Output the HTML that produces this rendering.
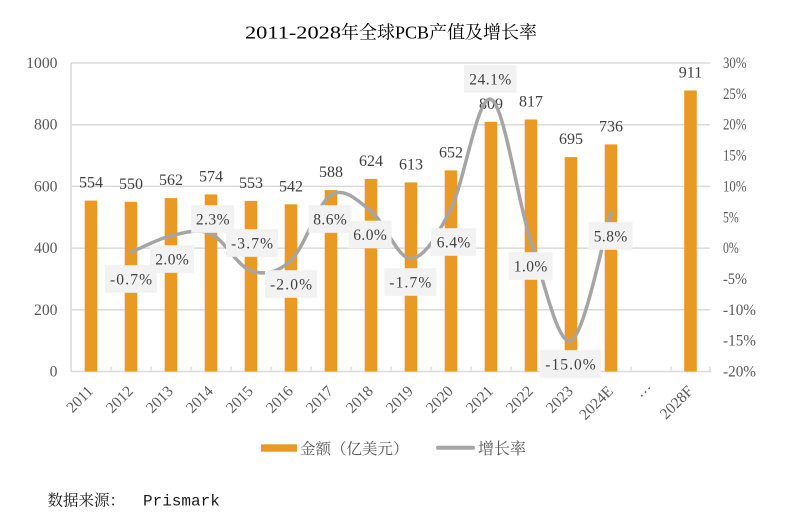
<!DOCTYPE html>
<html><head><meta charset="utf-8"><style>
html,body{margin:0;padding:0;background:#fff;}
svg{display:block;}
</style></head><body>
<svg width="789" height="523" viewBox="0 0 789 523" xmlns="http://www.w3.org/2000/svg">
<rect width="789" height="523" fill="#fff"/>
<!-- title -->
<g font-size="18" fill="#000">
<text x="245" y="38.5" font-family="Liberation Serif, serif" textLength="96" lengthAdjust="spacingAndGlyphs">2011-2028</text>
<text x="341" y="38.5" font-family="Liberation Serif, 'Noto Serif CJK SC', serif">年全球</text>
<text x="395" y="38.5" font-family="Liberation Serif, serif">PCB</text>
<text x="429" y="38.5" font-family="Liberation Serif, 'Noto Serif CJK SC', serif">产值及增长率</text>
</g>
<!-- gridlines -->
<g stroke="#d9d9d9" stroke-width="1.5">
<line x1="71" y1="63" x2="710" y2="63"/>
<line x1="71" y1="124.7" x2="710" y2="124.7"/>
<line x1="71" y1="186.4" x2="710" y2="186.4"/>
<line x1="71" y1="248.1" x2="710" y2="248.1"/>
<line x1="71" y1="309.8" x2="710" y2="309.8"/>
<line x1="71" y1="371.5" x2="711" y2="371.5"/>
<line x1="71" y1="63" x2="71" y2="371.5"/>
</g>
<g stroke="#d9d9d9" stroke-width="1.3">
<line x1="111" y1="366.5" x2="111" y2="371.5"/><line x1="151" y1="366.5" x2="151" y2="371.5"/>
<line x1="191" y1="366.5" x2="191" y2="371.5"/><line x1="231" y1="366.5" x2="231" y2="371.5"/>
<line x1="271" y1="366.5" x2="271" y2="371.5"/><line x1="311" y1="366.5" x2="311" y2="371.5"/>
<line x1="351" y1="366.5" x2="351" y2="371.5"/><line x1="391" y1="366.5" x2="391" y2="371.5"/>
<line x1="431" y1="366.5" x2="431" y2="371.5"/><line x1="471" y1="366.5" x2="471" y2="371.5"/>
<line x1="511" y1="366.5" x2="511" y2="371.5"/><line x1="551" y1="366.5" x2="551" y2="371.5"/>
<line x1="591" y1="366.5" x2="591" y2="371.5"/><line x1="631" y1="366.5" x2="631" y2="371.5"/>
<line x1="671" y1="366.5" x2="671" y2="371.5"/><line x1="710" y1="366.5" x2="710" y2="371.5"/>
</g>
<!-- left axis labels -->
<g font-family="Liberation Serif, serif" font-size="15.7" fill="#595959" text-anchor="end">
<text x="57.5" y="68">1000</text>
<text x="57.5" y="129.7">800</text>
<text x="57.5" y="191.4">600</text>
<text x="57.5" y="253.1">400</text>
<text x="57.5" y="314.8">200</text>
<text x="57.5" y="376.5">0</text>
</g>
<!-- right axis labels -->
<g font-family="Liberation Serif, serif" font-size="15.7" fill="#595959" lengthAdjust="spacingAndGlyphs">
<text x="723" y="68" textLength="23.5" lengthAdjust="spacingAndGlyphs">30%</text>
<text x="723" y="98.9" textLength="23.5" lengthAdjust="spacingAndGlyphs">25%</text>
<text x="723" y="129.7" textLength="23.5" lengthAdjust="spacingAndGlyphs">20%</text>
<text x="723" y="160.6" textLength="23.5" lengthAdjust="spacingAndGlyphs">15%</text>
<text x="723" y="191.4" textLength="23.5" lengthAdjust="spacingAndGlyphs">10%</text>
<text x="723" y="222.3" textLength="15.7" lengthAdjust="spacingAndGlyphs">5%</text>
<text x="723" y="253.1" textLength="15.7" lengthAdjust="spacingAndGlyphs">0%</text>
<text x="723" y="284" textLength="24" lengthAdjust="spacingAndGlyphs">-5%</text>
<text x="723" y="314.8" textLength="33" lengthAdjust="spacingAndGlyphs">-10%</text>
<text x="723" y="345.7" textLength="33" lengthAdjust="spacingAndGlyphs">-15%</text>
<text x="723" y="376.5" textLength="33" lengthAdjust="spacingAndGlyphs">-20%</text>
</g>
<!-- bars -->
<g fill="#E89A22">
<rect x="84.7" y="200.6" width="12.6" height="170.9"/>
<rect x="124.7" y="201.8" width="12.6" height="169.7"/>
<rect x="164.7" y="198.1" width="12.6" height="173.4"/>
<rect x="204.7" y="194.4" width="12.6" height="177.1"/>
<rect x="244.7" y="200.9" width="12.6" height="170.6"/>
<rect x="284.7" y="204.3" width="12.6" height="167.2"/>
<rect x="324.7" y="190.1" width="12.6" height="181.4"/>
<rect x="364.7" y="179.0" width="12.6" height="192.5"/>
<rect x="404.7" y="182.4" width="12.6" height="189.1"/>
<rect x="444.7" y="170.4" width="12.6" height="201.1"/>
<rect x="484.7" y="121.9" width="12.6" height="249.6"/>
<rect x="524.7" y="119.5" width="12.6" height="252.0"/>
<rect x="564.7" y="157.1" width="12.6" height="214.4"/>
<rect x="604.7" y="144.4" width="12.6" height="227.1"/>
<rect x="684.2" y="90.5" width="12.6" height="281.0"/>
</g>
<!-- value labels -->
<g font-family="Liberation Serif, serif" font-size="16" fill="#404040" text-anchor="middle">
<text x="91" y="187.6">554</text>
<text x="131" y="188.8">550</text>
<text x="171" y="185.1">562</text>
<text x="211" y="181.4">574</text>
<text x="251" y="187.9">553</text>
<text x="291" y="191.3">542</text>
<text x="331" y="177.1">588</text>
<text x="371" y="166">624</text>
<text x="411" y="169.4">613</text>
<text x="451" y="157.4">652</text>
<text x="491" y="108.9">809</text>
<text x="531" y="106.5">817</text>
<text x="571" y="144.1">695</text>
<text x="611" y="131.4">736</text>
<text x="690.5" y="77.5">911</text>
</g>
<!-- growth line -->
<path d="M131,252.4 C137.67,249.63 157.67,238.88 171,235.8 C184.33,232.72 197.67,228.05 211,233.9 C224.33,239.75 237.67,266.48 251,270.9 C264.33,275.32 277.67,273.05 291,260.4 C304.33,247.75 317.67,203.22 331,195.0 C344.33,186.78 357.67,200.5 371,211.1 C384.33,221.7 397.67,259.02 411,258.6 C424.33,258.18 437.67,235.13 451,208.6 C464.33,182.07 477.67,93.85 491,99.4 C504.33,104.95 517.67,201.68 531,241.9 C544.33,282.12 557.67,345.63 571,340.7 C584.33,335.77 604.33,233.7 611,212.3" fill="none" stroke="#a5a5a5" stroke-width="3.5" stroke-linecap="round" stroke-linejoin="round"/>
<!-- pct boxes -->
<g fill="#f2f2f2">
<rect x="105" y="265.2" width="52" height="27.6"/>
<rect x="150" y="245.2" width="44" height="27.6"/>
<rect x="191.2" y="205.2" width="43" height="27.6"/>
<rect x="226" y="229.2" width="52" height="27.6"/>
<rect x="265" y="270.2" width="52" height="27.6"/>
<rect x="308.5" y="205.2" width="43" height="27.6"/>
<rect x="348.5" y="220.7" width="43" height="27.6"/>
<rect x="384.3" y="268.2" width="52" height="27.6"/>
<rect x="431" y="228.2" width="45" height="27.6"/>
<rect x="464" y="65.2" width="52.7" height="27.6"/>
<rect x="508.5" y="252.2" width="44" height="27.6"/>
<rect x="540" y="350.2" width="61" height="27.6"/>
<rect x="588.5" y="222.2" width="44" height="27.6"/>
</g>
<g font-family="Liberation Serif, serif" font-size="15.5" fill="#404040" text-anchor="middle">
<text x="131" y="284.3" textLength="42" lengthAdjust="spacing">-0.7%</text>
<text x="172" y="264.3" textLength="33.6" lengthAdjust="spacing">2.0%</text>
<text x="212.7" y="224.3" textLength="33.6" lengthAdjust="spacing">2.3%</text>
<text x="252" y="248.3" textLength="42" lengthAdjust="spacing">-3.7%</text>
<text x="291" y="289.3" textLength="42" lengthAdjust="spacing">-2.0%</text>
<text x="330" y="224.3" textLength="33.6" lengthAdjust="spacing">8.6%</text>
<text x="370" y="239.8" textLength="33.6" lengthAdjust="spacing">6.0%</text>
<text x="410.3" y="287.3" textLength="42" lengthAdjust="spacing">-1.7%</text>
<text x="453.5" y="247.3" textLength="33.6" lengthAdjust="spacing">6.4%</text>
<text x="490.3" y="84.3" textLength="42" lengthAdjust="spacing">24.1%</text>
<text x="530.5" y="271.3" textLength="33.6" lengthAdjust="spacing">1.0%</text>
<text x="570.5" y="369.3" textLength="50.4" lengthAdjust="spacing">-15.0%</text>
<text x="610.5" y="241.3" textLength="33.6" lengthAdjust="spacing">5.8%</text>
</g>
<!-- x labels -->
<g font-family="Liberation Serif, serif" font-size="15.5" fill="#595959" text-anchor="end">
<text transform="translate(94,392) rotate(-45)">2011</text>
<text transform="translate(134,392) rotate(-45)">2012</text>
<text transform="translate(174,392) rotate(-45)">2013</text>
<text transform="translate(214,392) rotate(-45)">2014</text>
<text transform="translate(254,392) rotate(-45)">2015</text>
<text transform="translate(294,392) rotate(-45)">2016</text>
<text transform="translate(334,392) rotate(-45)">2017</text>
<text transform="translate(374,392) rotate(-45)">2018</text>
<text transform="translate(414,392) rotate(-45)">2019</text>
<text transform="translate(454,392) rotate(-45)">2020</text>
<text transform="translate(494,392) rotate(-45)">2021</text>
<text transform="translate(534,392) rotate(-45)">2022</text>
<text transform="translate(574,392) rotate(-45)">2023</text>
<text transform="translate(614,392) rotate(-45)">2024E</text>
<text transform="translate(651.5,387) rotate(-45)">…</text>
<text transform="translate(694,392) rotate(-45)">2028F</text>
</g>
<!-- legend -->
<rect x="261" y="444.3" width="36" height="7.4" fill="#E89A22"/>
<text x="300" y="454" font-family="Liberation Serif, 'Noto Serif CJK SC', serif" font-size="15.5" fill="#595959">金额（亿美元）</text>
<line x1="438" y1="447.8" x2="473" y2="447.8" stroke="#a5a5a5" stroke-width="4" stroke-linecap="round"/>
<text x="478" y="454" font-family="Liberation Serif, 'Noto Serif CJK SC', serif" font-size="16" fill="#595959">增长率</text>
<!-- source -->
<text x="47.5" y="505.5" font-family="Liberation Serif, 'Noto Serif CJK SC', serif" font-size="15.5" fill="#1a1a1a">数据来源：</text>
<text x="143" y="505.5" font-family="Liberation Mono, monospace" font-size="16" fill="#1a1a1a">Prismark</text>
</svg>
</body></html>
